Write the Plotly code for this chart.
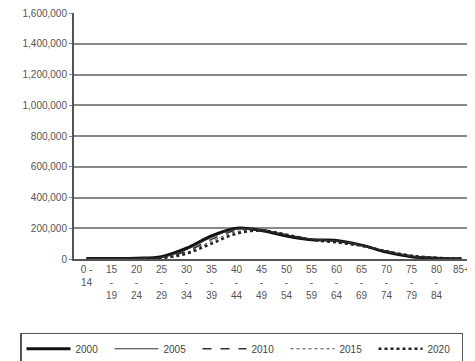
import plotly.graph_objects as go

# Age groups on the x axis
age_groups = ["0 -<br>14", "15<br>-<br>19", "20<br>-<br>24", "25<br>-<br>29", "30<br>-<br>34",
              "35<br>-<br>39", "40<br>-<br>44", "45<br>-<br>49", "50<br>-<br>54", "55<br>-<br>59",
              "60<br>-<br>64", "65<br>-<br>69", "70<br>-<br>74", "75<br>-<br>79", "80<br>-<br>84", "85+"]

# Population per age group
pop_2000 = [3000, 3000, 5000, 15000, 70000, 150000, 200000, 185000, 150000, 125000, 120000, 90000, 45000, 15000, 5000, 2000]
pop_2005 = [3000, 3000, 4000, 12000, 60000, 140000, 195000, 190000, 155000, 128000, 118000, 92000, 50000, 18000, 6000, 2000]
pop_2010 = [2000, 2000, 4000, 10000, 50000, 128000, 188000, 192000, 158000, 130000, 115000, 90000, 52000, 20000, 7000, 3000]
pop_2015 = [2000, 2000, 3000, 8000, 42000, 115000, 178000, 190000, 160000, 128000, 112000, 88000, 52000, 22000, 8000, 3000]
pop_2020 = [2000, 2000, 3000, 6000, 35000, 100000, 165000, 185000, 158000, 125000, 108000, 85000, 50000, 22000, 8000, 3000]

years = ["2000", "2005", "2010", "2015", "2020"]
series = [pop_2000, pop_2005, pop_2010, pop_2015, pop_2020]
y_ticks = [0, 200000, 400000, 600000, 800000, 1000000, 1200000, 1400000, 1600000]

styles = [
    dict(width=3, dash="solid", color="#111111"),
    dict(width=1, dash="solid", color="#333333"),
    dict(width=1.5, dash="dash", color="#333333"),
    dict(width=1, dash="dot", color="#444444"),
    dict(width=2.5, dash="dot", color="#222222"),
]

fig = go.Figure()
for yr, vals, st in zip(years, series, styles):
    fig.add_trace(go.Scatter(x=age_groups, y=vals, mode="lines", name=yr,
                             line=dict(shape="spline", **st)))

# page body has an 8px margin, so the figure is shrunk and margins shifted
fig.update_layout(
    width=467, height=353,
    margin=dict(l=66, r=1, t=5, b=102, autoexpand=False),
    paper_bgcolor="white", plot_bgcolor="white",
    font=dict(family="Liberation Sans, Arial", size=10, color="#555"),
    showlegend=True,
    legend=dict(orientation="h", x=-0.135, xanchor="left", y=-0.43, yanchor="bottom",
                bordercolor="#555", borderwidth=1.5, font=dict(size=10, color="#444"),
                itemwidth=44, entrywidth=29, entrywidthmode="pixels",
                tracegroupgap=0),
    xaxis=dict(showline=True, linecolor="#555", linewidth=2, showgrid=False,
               range=[-0.5, 15.5], tickangle=0, ticks="", tickfont=dict(size=10),
               ticklabeloverflow="allow"),
    yaxis=dict(range=[0, 1600000], tickvals=y_ticks, tickformat=",",
               showline=True, linecolor="#555", linewidth=2,
               showgrid=True, gridcolor="#888", gridwidth=1.5,
               ticks="outside", ticklen=3, tickcolor="#888", tickfont=dict(size=10),
               ticklabeloverflow="allow"),
)

fig.write_html("out.html")
